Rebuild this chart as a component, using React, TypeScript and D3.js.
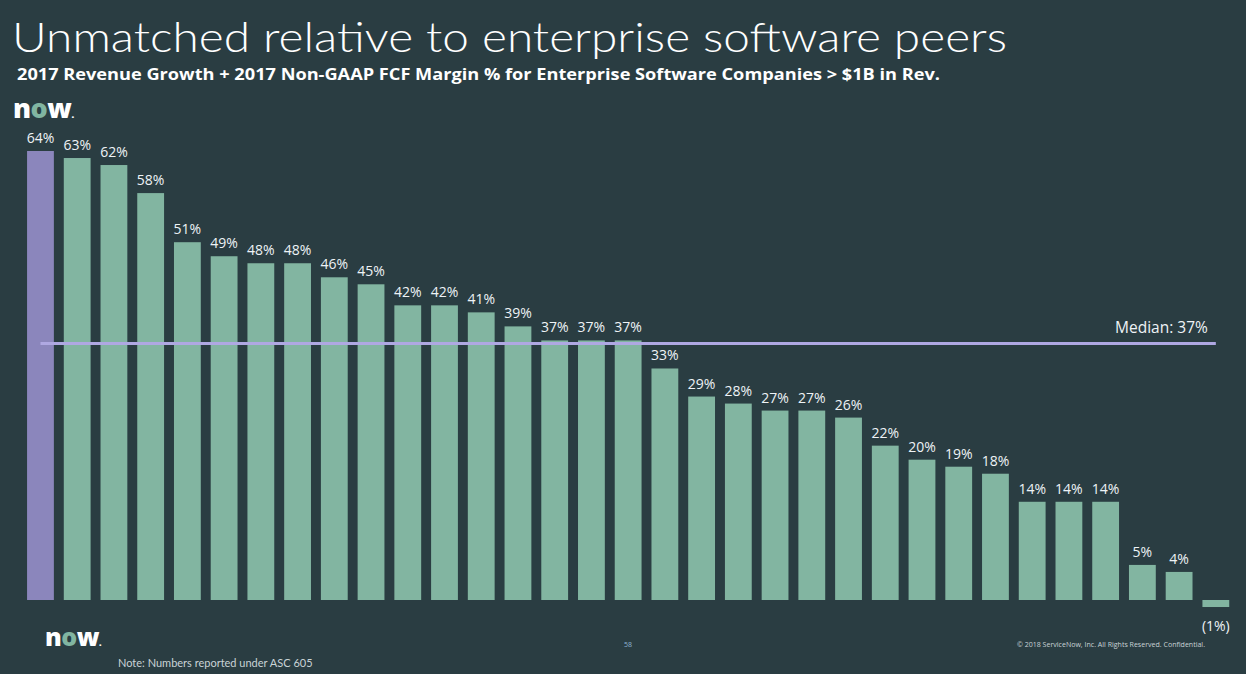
import React from "react";
import * as d3 from "d3";

const companies: string[] = [
  "ServiceNow","P1","P2","P3","P4","P5","P6","P7","P8","P9","P10","P11","P12","P13","P14","P15","P16",
  "P17","P18","P19","P20","P21","P22","P23","P24","P25","P26","P27","P28","P29","P30","P31","P32",
];
const values: number[] = [
  64,63,62,58,51,49,48,48,46,45,42,42,41,39,37,37,37,33,29,28,27,27,26,22,20,19,18,14,14,14,5,4,-1,
];
const medianValue = 37;

const W = 1246, H = 674;
const BG = "#2a3d42";
const BAR = "#82b5a1";
const NOW_BAR = "#8b86bc";
const MEDIAN = "#afa8e2";
const TXT = "#eef3f6";

function Logo({ x, y, size }: { x: number; y: number; size: number }) {
  return (
    <text x={x} y={y} fontFamily="'Open Sans', 'DejaVu Sans', sans-serif" fontWeight={800} fontSize={size} fill="#ffffff" letterSpacing={-0.5}>
      n<tspan fill="#81b5a1">o</tspan>w<tspan fontSize={size * 0.35}>.</tspan>
    </text>
  );
}

export default function App() {
  const x = d3.scaleBand<string>().domain(companies).range([22.1, 1234.2]).paddingInner(0.27).paddingOuter(0.135);
  const y = d3.scaleLinear().domain([0, 64]).range([600, 151]);
  const bw = x.bandwidth();
  const first = companies[0];
  const last = companies[companies.length - 1];
  const mx1 = (x(first) ?? 0) + bw / 2;
  const mx2 = (x(last) ?? 0) + bw / 2;
  const my = y(medianValue) + 3;
  const fmt = (v: number) => (v < 0 ? `(${Math.abs(v)}%)` : `${v}%`);

  return (
    <svg width={W} height={H} style={{ position: "absolute", left: 0, top: 0, display: "block" }}>
      <rect width={W} height={H} fill={BG} />
      <text x={12} y={52} fontFamily="Lato, 'Open Sans', sans-serif" fontWeight={300} fontSize={41} fill="#ffffff" textLength={995} lengthAdjust="spacingAndGlyphs">
        Unmatched relative to enterprise software peers
      </text>
      <text x={17} y={80} fontFamily="'Open Sans', 'Noto Sans', sans-serif" fontWeight={700} fontSize={16.5} fill="#ffffff" textLength={923} lengthAdjust="spacingAndGlyphs">
        2017 Revenue Growth + 2017 Non-GAAP FCF Margin % for Enterprise Software Companies &gt; $1B in Rev.
      </text>
      <Logo x={13} y={118} size={27} />
      {companies.map((c, i) => {
        const v = values[i];
        const x0 = x(c) ?? 0;
        const top = v >= 0 ? y(v) : y(0);
        const h = Math.abs(y(v) - y(0));
        const cx = x0 + bw / 2;
        return (
          <g key={c}>
            <rect x={x0} y={top} width={bw} height={h} fill={i === 0 ? NOW_BAR : BAR} />
            <text
              x={cx}
              y={v >= 0 ? y(v) - 8 : y(v) + 24}
              textAnchor="middle"
              fontFamily="'Open Sans', 'Noto Sans', sans-serif"
              fontSize={14}
              fill={TXT}
            >
              {fmt(v)}
            </text>
          </g>
        );
      })}
      <line x1={mx1} x2={mx2} y1={my} y2={my} stroke={MEDIAN} strokeWidth={3} />
      <text x={mx2 - 8} y={my - 10} textAnchor="end" fontFamily="'Open Sans', 'Noto Sans', sans-serif" fontSize={15.5} fill={TXT}>
        Median: {medianValue}%
      </text>
      <Logo x={45} y={646} size={25} />
      <text x={118} y={667} fontFamily="Lato, 'Open Sans', sans-serif" fontSize={11} fill="#c9d3d6">
        Note: Numbers reported under ASC 605
      </text>
      <text x={628} y={647} textAnchor="middle" fontFamily="'Open Sans', sans-serif" fontSize={7} fill="#8fb4d2">58</text>
      <text x={1017} y={647} fontFamily="'Open Sans', sans-serif" fontSize={7} fill="#c9d3d6" textLength={188} lengthAdjust="spacingAndGlyphs">
        © 2018 ServiceNow, Inc. All Rights Reserved. Confidential.
      </text>
    </svg>
  );
}
